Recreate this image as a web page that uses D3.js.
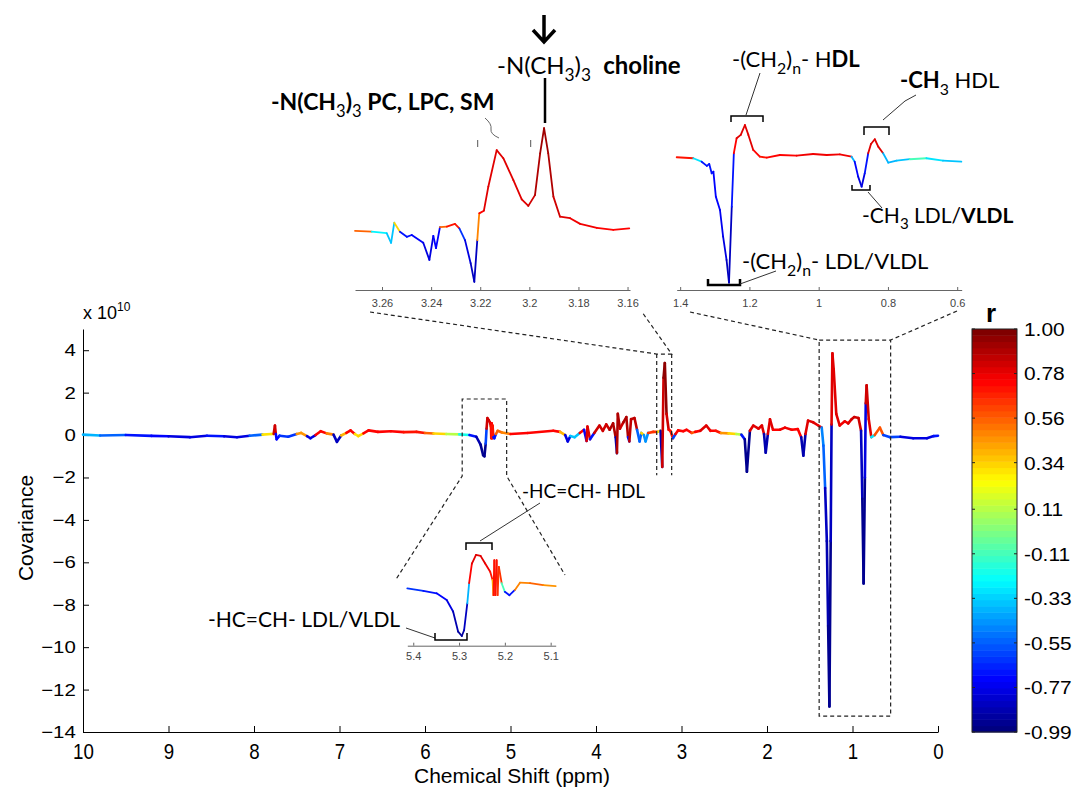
<!DOCTYPE html>
<html>
<head>
<meta charset="utf-8">
<script src="https://cdn.jsdelivr.net/npm/d3@7"></script>
<style>
  body { margin: 0; background: #fff; }
  svg { display: block; }
  .ax text { font-family: "Liberation Sans", Arial, sans-serif; fill: #000; }
  .ax path, .ax line { stroke: #000; }
  .inax text { font-family: "Liberation Sans", Arial, sans-serif; fill: #444; }
  .inax path, .inax line { stroke: #666; }
  .note { font-family: Lato, "Open Sans", sans-serif; fill: #000; }
</style>
</head>
<body>
<svg id="chart" width="1077" height="791"></svg>
<script>
// ---- main STOCSY trace: chemical shift, covariance (x1e10), correlation r
const mainPpm = [
  10.00, 9.80, 9.50, 9.20, 9.00, 8.75, 8.55, 8.35, 8.20, 8.05,
  7.90, 7.80, 7.77, 7.755, 7.745, 7.735, 7.70, 7.60, 7.50, 7.45,
  7.38, 7.34, 7.28, 7.22, 7.15, 7.07, 7.03, 6.98, 6.92, 6.87,
  6.82, 6.78, 6.72, 6.66, 6.55, 6.40, 6.25, 6.10, 6.00, 5.90,
  5.75, 5.60, 5.48, 5.40, 5.35, 5.32, 5.305, 5.29, 5.28, 5.27,
  5.255, 5.24, 5.23, 5.225, 5.22, 5.215, 5.21, 5.20, 5.19, 5.17,
  5.15, 5.10, 5.00, 4.80, 4.50, 4.42, 4.36, 4.33, 4.30, 4.25,
  4.19, 4.14, 4.11, 4.10, 4.07, 4.02, 3.96, 3.92, 3.88, 3.84,
  3.80, 3.77, 3.755, 3.745, 3.72, 3.68, 3.645, 3.625, 3.61, 3.59,
  3.55, 3.52, 3.49, 3.47, 3.44, 3.42, 3.39, 3.33, 3.28, 3.245,
  3.225, 3.21, 3.195, 3.175, 3.15, 3.13, 3.10, 3.07, 3.04, 2.98,
  2.94, 2.88, 2.84, 2.78, 2.71, 2.66, 2.60, 2.54, 2.45, 2.36,
  2.30, 2.26, 2.235, 2.20, 2.16, 2.10, 2.06, 2.035, 2.015, 1.99,
  1.965, 1.93, 1.85, 1.79, 1.71, 1.64, 1.60, 1.575, 1.55, 1.52,
  1.46, 1.40, 1.36, 1.34, 1.32, 1.30, 1.285, 1.27, 1.255, 1.245,
  1.235, 1.22, 1.19, 1.15, 1.09, 1.05, 1.01, 0.98, 0.93, 0.90,
  0.885, 0.87, 0.855, 0.845, 0.835, 0.81, 0.78, 0.74, 0.68, 0.64,
  0.56, 0.44, 0.29, 0.13, 0.05, 0.00
];
const mainCov = [
  0.02, -0.02, 0.00, -0.04, -0.06, -0.10, -0.03, -0.06, -0.10, -0.03,
  0.02, 0.05, 0.05, 0.45, 0.05, -0.20, -0.03, -0.08, 0.05, 0.10,
  -0.05, -0.15, 0.00, 0.18, 0.08, 0.02, -0.32, -0.02, 0.10, 0.22,
  0.05, -0.05, 0.08, 0.22, 0.15, 0.18, 0.14, 0.15, 0.10, 0.07,
  0.05, 0.03, 0.00, -0.08, -0.45, -0.95, -1.00, -0.40, 0.30, 0.80,
  0.70, 0.60, 0.40, -0.15, 0.55, -0.15, 0.45, -0.10, -0.15, 0.05,
  0.20, 0.12, 0.05, 0.10, 0.20, 0.15, 0.00, -0.30, -0.05, -0.10,
  0.10, 0.25, -0.28, 0.40, -0.20, 0.10, 0.45, 0.20, 0.50, 0.25,
  0.55, -0.10, -0.85, 1.00, 0.30, 0.60, 0.85, -0.10, -0.30, 0.75,
  0.80, 0.25, -0.30, 0.10, 0.00, -0.30, 0.10, 0.15, 0.15, 0.20,
  -1.50, 2.70, 3.40, 1.00, 0.25, 0.20, -0.15, 0.05, 0.22, 0.18,
  0.25, 0.10, 0.15, 0.20, 0.45, 0.20, 0.20, 0.10, 0.08, 0.05,
  0.02, -0.20, -1.73, 0.20, 0.45, 0.30, 0.45, 0.05, -0.83, 0.05,
  0.74, 0.25, 0.25, 0.35, 0.25, 0.28, -0.10, -0.97, 0.05, 0.68,
  0.60, 0.45, 0.35, -0.50, -2.50, -5.00, -9.00, -12.80, -5.00, 0.50,
  3.85, 3.10, 1.00, 0.45, 0.65, 0.55, 0.75, 0.85, 0.80, 0.20,
  -3.00, -7.00, -2.00, 1.50, 2.35, 0.75, -0.10, 0.00, 0.35, 0.00,
  -0.10, -0.08, -0.15, -0.15, -0.05, -0.03
];
const mainR = [
  -0.40, -0.55, -0.60, -0.70, -0.75, -0.80, -0.60, -0.70, -0.80, -0.55,
  -0.30, 0.30, 0.70, 0.85, 0.70, -0.75, -0.50, -0.65, 0.20, 0.45,
  -0.50, -0.80, 0.10, 0.75, 0.50, 0.20, -0.85, -0.20, 0.40, 0.75,
  0.30, -0.30, 0.35, 0.75, 0.70, 0.75, 0.72, 0.70, 0.55, 0.35,
  0.10, -0.20, -0.45, -0.70, -0.88, -0.95, -0.97, -0.60, 0.40, 0.85,
  0.85, 0.80, 0.60, -0.30, 0.75, -0.30, 0.70, -0.50, -0.70, 0.20,
  0.55, 0.50, 0.70, 0.75, 0.75, 0.40, -0.40, -0.80, -0.50, -0.35,
  0.30, 0.75, -0.75, 0.80, -0.70, 0.40, 0.85, 0.70, 0.85, 0.75,
  0.90, -0.50, -0.90, 0.90, 0.75, 0.85, 0.90, -0.40, -0.70, 0.88,
  0.88, 0.70, -0.55, 0.35, -0.20, -0.45, 0.40, 0.65, 0.70, 0.30,
  -0.90, 0.85, 0.97, 0.85, 0.75, 0.70, -0.60, 0.40, 0.75, 0.75,
  0.75, 0.10, 0.60, 0.75, 0.80, 0.75, 0.70, 0.45, 0.35, 0.10,
  -0.20, -0.70, -0.95, 0.70, 0.80, 0.75, 0.80, 0.10, -0.90, 0.30,
  0.82, 0.75, 0.75, 0.78, 0.75, 0.75, -0.50, -0.90, 0.30, 0.82,
  0.80, 0.78, 0.50, -0.50, -0.55, -0.85, -0.90, -0.95, -0.85, 0.30,
  0.80, 0.82, 0.80, 0.75, 0.78, 0.78, 0.82, 0.85, 0.85, 0.30,
  -0.85, -0.95, -0.80, 0.75, 0.85, 0.80, -0.30, 0.25, 0.60, -0.30,
  -0.60, -0.70, -0.80, -0.80, -0.70, -0.40
];

// ---- inset A: choline region 3.27-3.16 ppm (relative covariance)
const insetAPpm = [3.271, 3.2642, 3.2581, 3.2563, 3.2550, 3.2527, 3.2499, 3.2479, 3.2432, 3.2407,
  3.2391, 3.2380, 3.2364, 3.2336, 3.2303, 3.2285, 3.2262, 3.2239, 3.2224, 3.2212,
  3.2204, 3.2185, 3.2167, 3.2133, 3.2106, 3.2065, 3.2031, 3.2004, 3.1977, 3.1956,
  3.1940, 3.1923, 3.1902, 3.1875, 3.1834, 3.1793, 3.1725, 3.1658, 3.1593];
const insetAVal = [0.04, 0.01, -0.04, -0.36, 0.31, 0.01, -0.16, -0.10, -0.36, -0.93,
  -0.13, -0.54, 0.16, 0.18, 0.27, 0.12, -0.27, -1.04, -1.66, -0.27,
  0.62, 0.71, 1.51, 2.73, 2.46, 1.73, 1.09, 0.87, 1.23, 2.62,
  3.46, 2.62, 1.18, 0.51, 0.46, 0.27, 0.14, 0.07, 0.12];
const insetAR = [0.55, -0.10, -0.25, -0.35, 0.35, -0.45, -0.70, -0.70, -0.75, -0.80,
  -0.55, -0.75, 0.30, 0.55, 0.70, 0.40, -0.65, -0.80, -0.85, -0.30,
  0.50, 0.75, 0.80, 0.82, 0.80, 0.80, 0.80, 0.80, 0.85, 0.92,
  0.95, 0.92, 0.85, 0.80, 0.78, 0.78, 0.75, 0.75, 0.75];

// ---- inset B: lipid region 1.41-0.59 ppm
const insetBPpm = [1.410, 1.362, 1.338, 1.323, 1.316, 1.309, 1.304, 1.297, 1.285, 1.276,
  1.266, 1.259, 1.251, 1.245, 1.237, 1.225, 1.213, 1.203, 1.189, 1.170,
  1.150, 1.112, 1.064, 1.016, 0.977, 0.939, 0.905, 0.896, 0.886, 0.876,
  0.867, 0.857, 0.849, 0.838, 0.828, 0.814, 0.799, 0.775, 0.737, 0.689,
  0.641, 0.588];
const insetBVal = [-0.03, -0.13, -0.48, -0.91, -0.71, -1.66, -1.49, -4.03, -5.39, -8.10,
  -10.47, -12.77, -5.05, 0.38, 1.90, 2.24, 3.25, 2.24, 0.71, 0.03,
  -0.07, 0.20, 0.13, 0.30, 0.20, 0.27, 0.03, -0.48, -2.00, -3.02,
  -1.66, 0.38, 1.32, 1.80, 1.05, 0.38, -0.58, -0.38, -0.23, -0.13,
  -0.38, -0.48];
const insetBR = [0.75, 0.70, -0.30, -0.70, -0.35, -0.70, -0.70, -0.75, -0.75, -0.78,
  -0.80, -0.85, -0.70, 0.20, 0.75, 0.80, 0.82, 0.80, 0.75, 0.65,
  0.70, 0.75, 0.75, 0.78, 0.80, 0.78, 0.40, -0.40, -0.75, -0.80,
  -0.70, 0.55, 0.80, 0.82, 0.80, 0.60, -0.40, -0.35, -0.10, 0.40,
  -0.30, -0.35];

// ---- inset C: olefinic region 5.41-5.09 ppm
const insetCPpm = [5.413, 5.378, 5.349, 5.327, 5.313, 5.302, 5.294, 5.289, 5.282, 5.278,
  5.272, 5.263, 5.253, 5.243, 5.232, 5.227, 5.225, 5.223, 5.221, 5.218,
  5.216, 5.213, 5.207, 5.200, 5.190, 5.178, 5.167, 5.145, 5.116, 5.089];
const insetCVal = [-0.01, -0.06, -0.11, -0.25, -0.49, -0.91, -1.00, -0.88, -0.32, 0.10,
  0.51, 0.69, 0.67, 0.51, 0.34, 0.17, -0.15, 0.58, -0.15, 0.58,
  -0.15, 0.44, 0.10, -0.08, -0.15, -0.04, 0.11, 0.10, 0.06, 0.04];
const insetCR = [-0.60, -0.65, -0.70, -0.75, -0.80, -0.90, -0.92, -0.85, -0.40, 0.40,
  0.75, 0.80, 0.80, 0.78, 0.70, 0.40, -0.30, 0.70, -0.30, 0.70,
  -0.30, 0.65, -0.10, -0.60, -0.70, -0.35, 0.50, 0.55, 0.45, 0.30];

// ---- ticks
const mainXTicks = [10, 9, 8, 7, 6, 5, 4, 3, 2, 1, 0];
const mainYTicks = [4, 2, 0, -2, -4, -6, -8, -10, -12, -14];
const colorTicks = [1.00, 0.78, 0.56, 0.34, 0.11, -0.11, -0.33, -0.55, -0.77, -0.99];
const insetATicks = [3.26, 3.24, 3.22, 3.2, 3.18, 3.16];
const insetBTicks = [1.4, 1.2, 1, 0.8, 0.6];
const insetCTicks = [5.4, 5.3, 5.2, 5.1];
const rMin = -0.99, rMax = 1.00;

const svg = d3.select("#chart");

// jet colormap, 64 levels like Matlab
function jet(r) {
  let t = (r - rMin) / (rMax - rMin);
  t = Math.max(0, Math.min(1, t));
  t = Math.round(t * 63) / 63;
  const c = v => Math.max(0, Math.min(1, v));
  const R = c(Math.min(4 * t - 1.5, -4 * t + 4.5));
  const G = c(Math.min(4 * t - 0.5, -4 * t + 3.5));
  const B = c(Math.min(4 * t + 0.5, -4 * t + 2.5));
  return d3.rgb(R * 255, G * 255, B * 255).formatHex();
}

// each segment takes the colour of its taller end, so peaks keep their colour
function trace(g, xs, ys, ppm, val, r, width) {
  g.selectAll(null)
    .data(d3.range(ppm.length - 1))
    .join("line")
    .attr("x1", i => xs(ppm[i]))
    .attr("y1", i => ys(val[i]))
    .attr("x2", i => xs(ppm[i + 1]))
    .attr("y2", i => ys(val[i + 1]))
    .attr("stroke", i => jet(Math.abs(val[i]) >= Math.abs(val[i + 1]) ? r[i] : r[i + 1]))
    .attr("stroke-width", width)
    .attr("stroke-linecap", "round");
}

// ---- main axes
const x = d3.scaleLinear().domain([10, 0]).range([83, 938]);
const y = d3.scaleLinear().domain([-14, 5]).range([732, 329]);

const gx = svg.append("g").attr("class", "ax")
  .attr("transform", "translate(0,732)")
  .call(d3.axisBottom(x).tickValues(mainXTicks).tickSize(-6).tickSizeOuter(0)
    .tickPadding(11).tickFormat(d3.format("d")));
gx.attr("font-size", 22);
gx.selectAll("text").attr("transform", "scale(0.85,1)");

const gy = svg.append("g").attr("class", "ax")
  .attr("transform", "translate(83,0)")
  .call(d3.axisLeft(y).tickValues(mainYTicks).tickSize(-6).tickSizeOuter(0)
    .tickPadding(6).tickFormat(d3.format("d")));
gy.attr("font-size", 17);
gy.selectAll("text").attr("transform", "scale(1.2,1)");

svg.append("text")
  .style("font-family", "'Liberation Sans', Arial, sans-serif")
  .attr("transform", "translate(33,528) rotate(-90)")
  .attr("text-anchor", "middle").attr("font-size", 21)
  .text("Covariance");

svg.append("text")
  .style("font-family", "'Liberation Sans', Arial, sans-serif")
  .attr("x", 512).attr("y", 783).attr("text-anchor", "middle").attr("font-size", 21)
  .text("Chemical Shift (ppm)");

const exp = svg.append("text")
  .style("font-family", "'Liberation Sans', Arial, sans-serif")
  .attr("x", 83).attr("y", 319).attr("font-size", 18);
exp.append("tspan").text("x 10");
exp.append("tspan").attr("dy", -8).attr("font-size", 12).text("10");

// ---- main trace
trace(svg.append("g"), x, y, mainPpm, mainCov, mainR, 2.6);

// ---- inset panels
function inset(range, domain, vDomain, vRange, axisY, ticks, pad, ppm, val, r) {
  const xs = d3.scaleLinear().domain(domain).range(range);
  const ys = d3.scaleLinear().domain(vDomain).range(vRange);
  const ga = svg.append("g").attr("class", "inax")
    .attr("transform", `translate(0,${axisY})`)
    .call(d3.axisBottom(xs).tickValues(ticks).tickSize(-3).tickSizeOuter(0)
      .tickPadding(pad).tickFormat(d => String(d)));
  ga.attr("font-size", 11);
  trace(svg.append("g"), xs, ys, ppm, val, r, 1.8);
}
inset([355, 630], [3.271, 3.159], [-2, 4], [292, 112], 290, insetATicks, 9, insetAPpm, insetAVal, insetAR);
inset([676.7, 961.7], [1.41, 0.587], [-13, 4], [284.9, 117.6], 290, insetBTicks, 9, insetBPpm, insetBVal, insetBR);
inset([407.3, 555.7], [5.413, 5.089], [-1.2, 1], [645.6, 540], 645.7, insetCTicks, 7, insetCPpm, insetCVal, insetCR);

// ---- dashed zoom boxes and connectors
const dash = svg.append("g").attr("fill", "none").attr("stroke", "#222")
  .attr("stroke-width", 1.2).attr("stroke-dasharray", "4,3");
dash.append("path").attr("d",
  `M396.7,578.3 L${x(5.565)},${y(-1.93)} V${y(1.7)} H${x(5.045)} V${y(-1.93)} L565,575`);
dash.append("path").attr("d",
  `M370,312 L${x(3.29)},${y(3.82)} H${x(3.115)} L642,312`);
dash.append("path").attr("d",
  `M${x(3.29)},${y(3.82)} V${y(-1.9)} M${x(3.115)},${y(3.82)} V${y(-1.9)}`);
dash.append("path").attr("d",
  `M690,312 L${x(1.39)},${y(4.48)} M957,311 L${x(0.554)},${y(4.48)}`);
dash.append("rect").attr("x", x(1.39)).attr("y", y(4.48))
  .attr("width", x(0.554) - x(1.39)).attr("height", y(-13.25) - y(4.48));

// ---- colour bar
const cb = d3.scaleLinear().domain([rMin, rMax]).range([732, 329]);
const step = (rMax - rMin) / 64;
svg.append("g").selectAll("rect").data(d3.range(64)).join("rect")
  .attr("x", 972).attr("width", 45)
  .attr("y", i => cb(rMin + (i + 1) * step))
  .attr("height", i => cb(rMin + i * step) - cb(rMin + (i + 1) * step) + 0.5)
  .attr("fill", i => jet(rMin + (i + 0.5) * step));
svg.append("rect").attr("x", 972).attr("y", 329).attr("width", 45).attr("height", 403)
  .attr("fill", "none").attr("stroke", "#222").attr("stroke-width", 1);
const cbt = svg.append("g").selectAll("g").data(colorTicks).join("g")
  .attr("transform", d => `translate(0,${cb(d)})`);
cbt.append("line").attr("x1", 972).attr("x2", 975).attr("stroke", "#222");
cbt.append("line").attr("x1", 1014).attr("x2", 1017).attr("stroke", "#222");
cbt.append("text")
  .style("font-family", "'Liberation Sans', Arial, sans-serif")
  .attr("font-size", 19).attr("dy", "0.36em")
  .attr("transform", "translate(1024,0) scale(1.1,1)")
  .text(d => d.toFixed(2));
svg.append("text").attr("x", 991).attr("y", 322).attr("text-anchor", "middle")
  .style("font-family", "'Liberation Sans', Arial, sans-serif")
  .attr("font-size", 26).attr("font-weight", "bold").text("r");

// ---- annotations
function rich(px, py, size, parts) {
  const t = svg.append("text").attr("class", "note").attr("x", px).attr("y", py)
    .attr("font-size", size);
  let shift = 0;
  parts.forEach(p => {
    const s = p.sub ? size * 0.3 : 0;
    t.append("tspan").attr("dy", s - shift)
      .attr("font-size", p.sub ? size * 0.72 : null)
      .attr("font-weight", p.b ? "bold" : null)
      .text(p.t);
    shift = s;
  });
}
rich(497, 74, 24, [{t: "-N(CH"}, {t: "3", sub: 1}, {t: ")"}, {t: "3", sub: 1}, {t: "\u00a0\u00a0"}, {t: "choline", b: 1}]);
rich(271, 110, 23, [{t: "-N(CH", b: 1}, {t: "3", sub: 1}, {t: ")", b: 1}, {t: "3", sub: 1}, {t: " PC, LPC, SM", b: 1}]);
rich(732, 67, 22, [{t: "-(CH"}, {t: "2", sub: 1}, {t: ")"}, {t: "n", sub: 1}, {t: "- H"}, {t: "DL", b: 1}]);
rich(900, 88, 22, [{t: "-CH", b: 1}, {t: "3", sub: 1}, {t: " HDL"}]);
rich(862, 223, 21, [{t: "-CH"}, {t: "3", sub: 1}, {t: " LDL/"}, {t: "VLDL", b: 1}]);
rich(742, 269, 22, [{t: "-(CH"}, {t: "2", sub: 1}, {t: ")"}, {t: "n", sub: 1}, {t: "- LDL/VLDL"}]);
rich(522, 498, 19, [{t: "-HC=CH- HDL"}]);
rich(208, 627, 21, [{t: "-HC=CH- LDL/VLDL"}]);

const ann = svg.append("g").attr("fill", "none").attr("stroke", "#000");
ann.append("path").attr("d", "M544,15 V42 M533,30 L544,42 L555,30").attr("stroke-width", 3.5);
ann.append("path").attr("d", "M545,78 V123").attr("stroke-width", 2.5);
ann.append("path").attr("d", "M485,118 Q492,124 491,129 T499,138").attr("stroke", "#666");
ann.append("path").attr("d", "M477.7,140 V147 M530.7,140 V147").attr("stroke", "#555");
ann.append("path").attr("d", "M760,73 L746,115").attr("stroke", "#333");
ann.append("path").attr("d", "M731,122 V116 H763 V122").attr("stroke-width", 1.5);
ann.append("path").attr("d", "M916,95 L905,101 L883,120").attr("stroke", "#333");
ann.append("path").attr("d", "M864,135 V127 H889 V135").attr("stroke-width", 1.5);
ann.append("path").attr("d", "M852,185 V190 H870 V185").attr("stroke-width", 1.5);
ann.append("path").attr("d", "M868,192 L882,208").attr("stroke", "#333");
ann.append("path").attr("d", "M708,279 V285 H740 V279").attr("stroke-width", 2.5);
ann.append("path").attr("d", "M740,284 L776,271").attr("stroke", "#333");
ann.append("path").attr("d", "M540,503 L480,541").attr("stroke", "#333");
ann.append("path").attr("d", "M466,550 V543 H492 V550").attr("stroke-width", 1.5);
ann.append("path").attr("d", "M406,628 L435,638").attr("stroke", "#333");
ann.append("path").attr("d", "M435,633 V640 H467 V633").attr("stroke-width", 1.5);
</script>
</body>
</html>
